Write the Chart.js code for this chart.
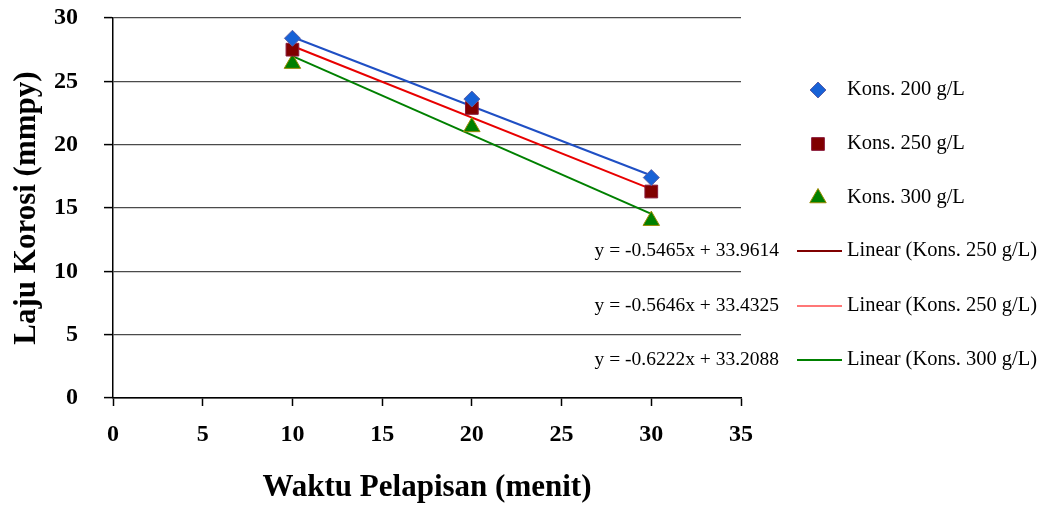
<!DOCTYPE html>
<html>
<head>
<meta charset="utf-8">
<script src="https://cdn.jsdelivr.net/npm/chart.js@4"></script>
<style>
    html, body { margin: 0; padding: 0; background: #fff; }
    #wrap { width: 1045px; height: 508px; }
</style>
</head>
<body>
<div id="wrap"><canvas id="grafik"></canvas></div>
<script>
// ======================== DATA ========================
const waktu = [10, 20, 30];
const kons200 = [28.4, 23.6, 17.4];
const kons250 = [27.5, 22.9, 16.3];
const kons300 = [26.4, 21.4, 14.0];

const namaSeri = ['Kons. 200 g/L', 'Kons. 250 g/L', 'Kons. 300 g/L'];
const namaTren = ['Linear (Kons. 250 g/L)', 'Linear (Kons. 250 g/L)', 'Linear (Kons. 300 g/L)'];
const slope = [-0.5465, -0.5646, -0.6222];
const intersep = [33.9614, 33.4325, 33.2088];
const persamaan = ['y = -0.5465x + 33.9614', 'y = -0.5646x + 33.4325', 'y = -0.6222x + 33.2088'];

const SERIF = "'Liberation Serif', 'Times New Roman', serif";

const gaya = [
    { style: 'rectRot', radius: 8, fill: '#1862d6', border: '#5a5fa8', garis: '#1f4fc4', legenda: '#800000', lebar: 2 },
    { style: 'rect', radius: 9, fill: '#800000', border: '#8a1a3a', garis: '#e80000', legenda: '#ff4a4a', lebar: 1.5 },
    { style: 'triangle', radius: 9.5, fill: '#008000', border: '#9a8a00', garis: '#008000', legenda: '#008000', lebar: 2 },
];

const seriNilai = [kons200, kons250, kons300];

function titikTren(i) {
    const x0 = waktu[0];
    const x1 = waktu[waktu.length - 1];
    return [
        { x: x0, y: slope[i] * x0 + intersep[i] },
        { x: x1, y: slope[i] * x1 + intersep[i] },
    ];
}

const datasets = [];
seriNilai.forEach((nilai, i) => {
    datasets.push({
        type: 'line',
        label: namaTren[i],
        data: titikTren(i),
        borderColor: gaya[i].garis,
        borderWidth: 2,
        pointRadius: 0,
        fill: false,
        order: 2,
    });
});
seriNilai.forEach((nilai, i) => {
    datasets.push({
        type: 'scatter',
        label: namaSeri[i],
        data: nilai.map((v, j) => ({ x: waktu[j], y: v })),
        pointStyle: gaya[i].style,
        pointRadius: gaya[i].radius,
        pointHoverRadius: gaya[i].radius,
        backgroundColor: gaya[i].fill,
        borderColor: gaya[i].border,
        borderWidth: 1,
        order: 1,
    });
});

// ======================== LEGENDA + PERSAMAAN ========================
const legendaKustom = {
    id: 'legendaKustom',
    afterDraw(chart) {
        const ctx = chart.ctx;
        ctx.save();
        ctx.textBaseline = 'middle';

        const barisSeri = [90, 144, 198];
        namaSeri.forEach((nama, i) => {
            ctx.fillStyle = gaya[i].fill;
            ctx.strokeStyle = gaya[i].border;
            ctx.lineWidth = 1;
            Chart.helpers.drawPoint(ctx, {
                pointStyle: gaya[i].style,
                radius: gaya[i].radius,
                borderWidth: 1,
                rotation: 0,
            }, 818, barisSeri[i]);
            ctx.font = '20.5px ' + SERIF;
            ctx.fillStyle = '#000';
            ctx.textAlign = 'left';
            ctx.fillText(nama, 847, barisSeri[i]);
        });

        const barisTren = [251, 306, 360];
        namaTren.forEach((nama, i) => {
            ctx.strokeStyle = gaya[i].legenda;
            ctx.lineWidth = gaya[i].lebar;
            ctx.beginPath();
            ctx.moveTo(797, barisTren[i]);
            ctx.lineTo(842, barisTren[i]);
            ctx.stroke();
            ctx.fillStyle = '#000';
            ctx.textAlign = 'left';
            ctx.font = '20.5px ' + SERIF;
            ctx.fillText(nama, 847, barisTren[i]);
            ctx.textAlign = 'right';
            ctx.font = '19.5px ' + SERIF;
            ctx.fillText(persamaan[i], 779, barisTren[i]);
        });
        ctx.restore();
    },
};

new Chart(document.getElementById('grafik'), {
    data: { datasets },
    options: {
        responsive: true,
        maintainAspectRatio: false,
        animation: false,
        layout: { padding: { top: 0, right: 304, bottom: 0, left: 0 } },
        plugins: {
            legend: { display: false },
            tooltip: { enabled: false },
        },
        scales: {
            x: {
                type: 'linear',
                min: 0,
                max: 35,
                ticks: {
                    stepSize: 5,
                    color: '#000',
                    padding: 14,
                    font: { family: SERIF, size: 24, weight: 'bold' },
                    maxRotation: 0,
                },
                grid: {
                    drawOnChartArea: false,
                    drawTicks: true,
                    tickLength: 8,
                    tickColor: '#000',
                    tickWidth: 1.5,
                },
                border: { color: '#000', width: 1.5 },
                title: {
                    display: true,
                    text: 'Waktu Pelapisan (menit)',
                    color: '#000',
                    font: { family: SERIF, size: 31, weight: 'bold', lineHeight: 1.2 },
                    padding: { top: 0, bottom: 1 },
                },
                afterFit(scale) { scale.height = 110; },
            },
            y: {
                min: 0,
                max: 30,
                ticks: {
                    stepSize: 5,
                    color: '#000',
                    padding: 26,
                    font: { family: SERIF, size: 24, weight: 'bold' },
                },
                grid: {
                    color: (c) => (c.tick && c.tick.value === 0 ? '#000' : '#4a4a4a'),
                    lineWidth: 1.2,
                    tickLength: 9,
                    tickColor: '#000',
                    tickWidth: 1.5,
                },
                border: { color: '#000', width: 1.5 },
                title: {
                    display: true,
                    text: 'Laju Korosi (mmpy)',
                    color: '#000',
                    font: { family: SERIF, size: 31, weight: 'bold', lineHeight: 1.2 },
                    padding: { top: 8, bottom: 0 },
                },
                afterFit(scale) {
                    scale.width = 113;
                    scale.paddingTop = 18;
                    scale.paddingBottom = 14;
                },
            },
        },
    },
    plugins: [legendaKustom],
});
</script>
</body>
</html>
